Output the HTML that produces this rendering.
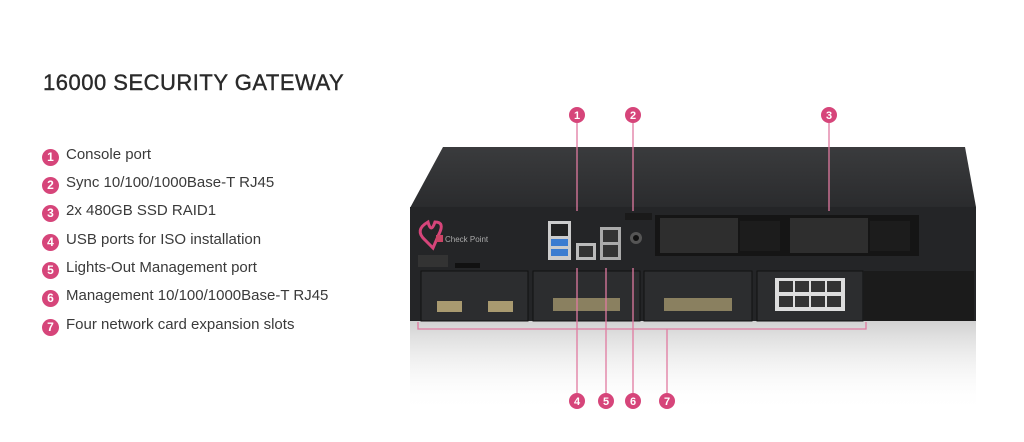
<!DOCTYPE html>
<html><head><style>
body{margin:0;width:1024px;height:442px;background:#fff;font-family:"Liberation Sans","DejaVu Sans",sans-serif;position:relative;overflow:hidden}
.t{position:absolute;left:43px;top:70px;font-size:22px;color:#2a2a2a;letter-spacing:0.5px;-webkit-text-stroke:0.4px #2a2a2a}
.li{position:absolute;left:42px;font-size:15px;color:#3a3a3a;line-height:18px}
.li b{display:inline-block;width:17px;height:17px;border-radius:50%;background:#d6457a;color:#fff;font-size:12px;text-align:center;line-height:17px;margin-right:7px;vertical-align:-2px}
</style></head><body>
<div class="t">16000 SECURITY GATEWAY</div>
<div class="li" style="top:146px"><b>1</b>Console port</div>
<div class="li" style="top:174px"><b>2</b>Sync 10/100/1000Base-T RJ45</div>
<div class="li" style="top:202px"><b>3</b>2x 480GB SSD RAID1</div>
<div class="li" style="top:231px"><b>4</b>USB ports for ISO installation</div>
<div class="li" style="top:259px"><b>5</b>Lights-Out Management port</div>
<div class="li" style="top:287px"><b>6</b>Management 10/100/1000Base-T RJ45</div>
<div class="li" style="top:316px"><b>7</b>Four network card expansion slots</div>
<svg width="1024" height="442" style="position:absolute;left:0;top:0">
<defs>
<linearGradient id="top" x1="0" y1="0" x2="0" y2="1"><stop offset="0" stop-color="#3a3b3d"/><stop offset="1" stop-color="#2a2b2d"/></linearGradient>
<linearGradient id="ref" x1="0" y1="0" x2="0" y2="1"><stop offset="0" stop-color="#666" stop-opacity="0.3"/><stop offset="1" stop-color="#fff" stop-opacity="0"/></linearGradient>
</defs>
<polygon points="443,147 965,147 976,207 410,208" fill="url(#top)"/>
<rect x="410" y="207" width="566" height="114" fill="#242527"/>
<rect x="410" y="321" width="566" height="90" fill="url(#ref)"/>
<path d="M428,222 q-14,8 -3,18 l8,8 l6,-14 q6,-12 -4,-12 q-4,12 -7,0z" fill="none" stroke="#d6457a" stroke-width="3"/>
<rect x="436" y="235" width="7" height="7" fill="#c46"/>
<text x="445" y="242" font-size="8" fill="#aaa">Check Point</text>
<rect x="418" y="255" width="30" height="12" fill="#333"/>
<rect x="455" y="263" width="25" height="5" fill="#111"/>
<rect x="548" y="221" width="23" height="39" fill="#ccc"/>
<rect x="551" y="224" width="17" height="12" fill="#222"/>
<rect x="551" y="239" width="17" height="7" fill="#3b7cd0"/>
<rect x="551" y="249" width="17" height="7" fill="#3b7cd0"/>
<rect x="576" y="243" width="20" height="17" fill="#bbb"/><rect x="579" y="246" width="14" height="11" fill="#333"/>
<rect x="600" y="227" width="21" height="33" fill="#aaa"/><rect x="603" y="230" width="15" height="12" fill="#333"/><rect x="603" y="245" width="15" height="12" fill="#333"/>
<circle cx="636" cy="238" r="6" fill="#555"/><circle cx="636" cy="238" r="3" fill="#111"/>
<rect x="625" y="213" width="27" height="7" fill="#1a1a1a"/>
<rect x="655" y="215" width="264" height="41" fill="#151515"/>
<rect x="660" y="218" width="78" height="35" fill="#2e2e2e"/><rect x="740" y="221" width="40" height="30" fill="#1c1c1c"/>
<rect x="790" y="218" width="78" height="35" fill="#2e2e2e"/><rect x="870" y="221" width="40" height="30" fill="#1c1c1c"/>
<rect x="421" y="271" width="107" height="50" fill="#2c2d2f" stroke="#111"/>
<rect x="533" y="271" width="107" height="50" fill="#2c2d2f" stroke="#111"/>
<rect x="644" y="271" width="108" height="50" fill="#2c2d2f" stroke="#111"/>
<rect x="757" y="271" width="106" height="50" fill="#2c2d2f" stroke="#111"/>
<rect x="864" y="271" width="110" height="50" fill="#1b1b1b"/>
<rect x="437" y="301" width="25" height="11" fill="#a99a70"/><rect x="488" y="301" width="25" height="11" fill="#a99a70"/>
<rect x="553" y="298" width="67" height="13" fill="#8a8060"/>
<rect x="664" y="298" width="68" height="13" fill="#8a8060"/>
<rect x="775" y="278" width="70" height="33" fill="#ddd"/>
<g fill="#333"><rect x="779" y="281" width="14" height="11"/><rect x="795" y="281" width="14" height="11"/><rect x="811" y="281" width="14" height="11"/><rect x="827" y="281" width="14" height="11"/><rect x="779" y="296" width="14" height="11"/><rect x="795" y="296" width="14" height="11"/><rect x="811" y="296" width="14" height="11"/><rect x="827" y="296" width="14" height="11"/></g>
<g stroke="#e07aa0" stroke-width="1.3" fill="none">
<line x1="577" y1="123" x2="577" y2="211"/><line x1="633" y1="123" x2="633" y2="211"/><line x1="829" y1="123" x2="829" y2="211"/>
<line x1="577" y1="268" x2="577" y2="393"/><line x1="606" y1="268" x2="606" y2="393"/><line x1="633" y1="268" x2="633" y2="393"/><line x1="667" y1="329" x2="667" y2="393"/>
<polyline points="418,322 418,329 866,329 866,322"/>
</g>
<g fill="#d6457a">
<circle cx="577" cy="115" r="8"/><circle cx="633" cy="115" r="8"/><circle cx="829" cy="115" r="8"/>
<circle cx="577" cy="401" r="8"/><circle cx="606" cy="401" r="8"/><circle cx="633" cy="401" r="8"/><circle cx="667" cy="401" r="8"/>
</g>
<g fill="#fff" font-size="11" font-weight="bold" text-anchor="middle">
<text x="577" y="119">1</text><text x="633" y="119">2</text><text x="829" y="119">3</text>
<text x="577" y="405">4</text><text x="606" y="405">5</text><text x="633" y="405">6</text><text x="667" y="405">7</text>
</g>
</svg>
</body></html>
